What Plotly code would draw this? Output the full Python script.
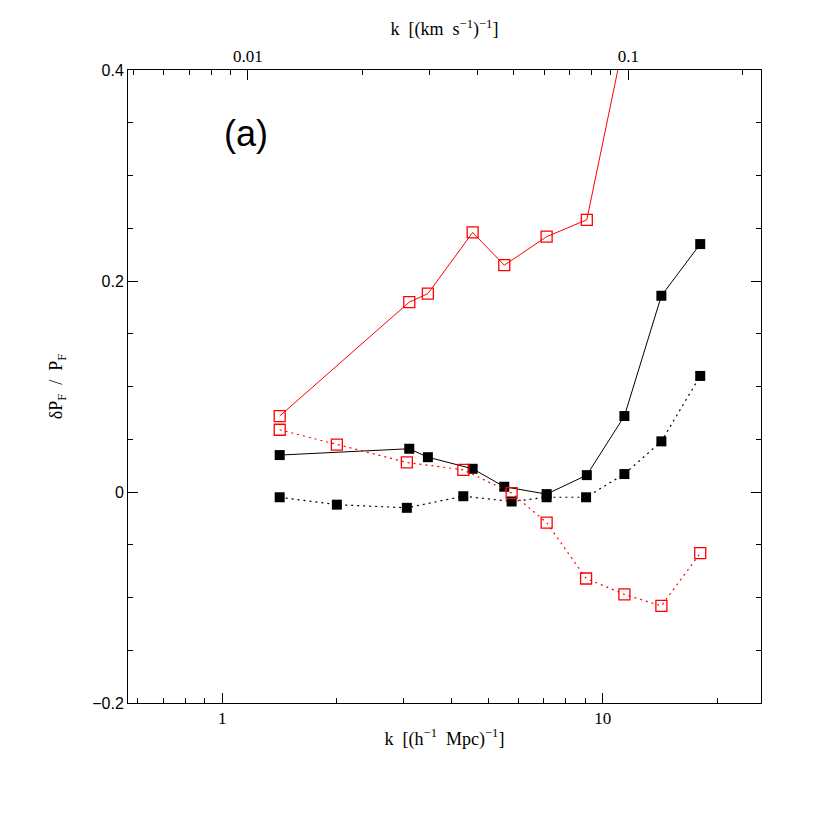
import plotly.graph_objects as go

# k in (h^-1 Mpc)^-1
k_black_solid = [1.415, 3.10, 3.47, 4.55, 5.51, 7.12, 9.08, 11.40, 14.26, 18.04]
dp_black_solid = [0.035, 0.041, 0.033, 0.022, 0.005, -0.002, 0.016, 0.072, 0.186, 0.235]

k_black_dot = [1.415, 2.00, 3.055, 4.30, 5.76, 7.12, 9.04, 11.40, 14.26, 18.04]
dp_black_dot = [-0.005, -0.012, -0.015, -0.004, -0.009, -0.005, -0.005, 0.017, 0.048, 0.110]

k_red_solid = [1.415, 3.10, 3.47, 4.55, 5.51, 7.12, 9.08, 11.40]
dp_red_solid = [0.072, 0.180, 0.188, 0.246, 0.215, 0.242, 0.258, 0.43]

k_red_dot = [1.415, 2.00, 3.055, 4.30, 5.76, 7.12, 9.04, 11.40, 14.26, 18.04]
dp_red_dot = [0.059, 0.045, 0.028, 0.021, -0.001, -0.029, -0.082, -0.097, -0.108, -0.058]

x_ticks = [1, 10]
x_ticktext = ["1", "10"]
top_ticks = [0.01, 0.1]
top_ticktext = ["0.01", "0.1"]
y_ticks = [-0.2, 0, 0.2, 0.4]
y_ticktext = ["\u22120.2", "0", "0.2", "0.4"]

KV_FACTOR = 116.8  # (h^-1 Mpc)^-1 -> (km/s)^-1
X_RANGE = [-0.248, 1.416]

SERIF = "Liberation Serif"
SANS = "Liberation Sans"

fig = go.Figure()

fig.add_trace(go.Scatter(
    x=k_black_solid, y=dp_black_solid, mode="lines+markers",
    line=dict(color="black", width=1),
    marker=dict(symbol="square", size=10, color="black"),
))
fig.add_trace(go.Scatter(
    x=k_black_dot, y=dp_black_dot, mode="lines+markers",
    line=dict(color="black", width=1.2, dash="2px,4px"),
    marker=dict(symbol="square", size=10, color="black"),
))
fig.add_trace(go.Scatter(
    x=k_red_solid, y=dp_red_solid, mode="lines+markers",
    line=dict(color="#ff0000", width=1),
    marker=dict(symbol="square-open", size=11, color="#ff0000", line=dict(width=1.3)),
))
fig.add_trace(go.Scatter(
    x=k_red_dot, y=dp_red_dot, mode="lines+markers",
    line=dict(color="#ff0000", width=1.2, dash="2px,4px"),
    marker=dict(symbol="square-open", size=11, color="#ff0000", line=dict(width=1.3)),
))
# empty trace so the top (velocity) axis is drawn
fig.add_trace(go.Scatter(x=[], y=[], xaxis="x2", showlegend=False, hoverinfo="skip"))

axis_common = dict(
    showline=True, linecolor="black", linewidth=1,
    ticks="inside", tickcolor="black", tickwidth=1, ticklen=10,
    showgrid=False, zeroline=False,
)

fig.update_layout(
    width=822, height=822,
    paper_bgcolor="white", plot_bgcolor="white",
    margin=dict(l=120, r=69, t=62, b=127),
    showlegend=False,
    font=dict(family=SERIF, size=16, color="black"),
    xaxis=dict(
        **axis_common,
        type="log", range=X_RANGE,
        tickvals=x_ticks, ticktext=x_ticktext,
        minor=dict(ticks="inside", ticklen=5, tickcolor="black", dtick="D1", showgrid=False),
        tickfont=dict(family=SERIF, size=17),
        title=dict(text="k  [(h<sup>\u22121</sup>  Mpc)<sup>\u22121</sup>]",
                   font=dict(family=SERIF, size=18), standoff=4),
    ),
    xaxis2=dict(
        **axis_common,
        type="log", overlaying="x", side="top", anchor="y",
        range=[X_RANGE[0] - 2.0674, X_RANGE[1] - 2.0674],
        tickvals=top_ticks, ticktext=top_ticktext,
        minor=dict(ticks="inside", ticklen=5, tickcolor="black", dtick="D1", showgrid=False),
        tickfont=dict(family=SERIF, size=17),
        title=dict(text="k  [(km  s<sup>\u22121</sup>)<sup>\u22121</sup>]",
                   font=dict(family=SERIF, size=18), standoff=6),
    ),
    yaxis=dict(
        **axis_common,
        mirror="ticks",
        range=[-0.2, 0.4],
        tickvals=y_ticks, ticktext=y_ticktext,
        minor=dict(ticks="inside", ticklen=5, tickcolor="black", dtick=0.05, showgrid=False),
        tickfont=dict(family=SANS, size=16),
        title=dict(text="\u03b4P<sub>F</sub>  /  P<sub>F</sub>",
                   font=dict(family=SERIF, size=18), standoff=24),
    ),
    annotations=[dict(
        text="(a)", xref="paper", yref="paper", x=0.186, y=0.90,
        xanchor="center", yanchor="middle", showarrow=False,
        font=dict(family=SANS, size=36, color="black"),
    )],
)

fig.write_html("out.html")
